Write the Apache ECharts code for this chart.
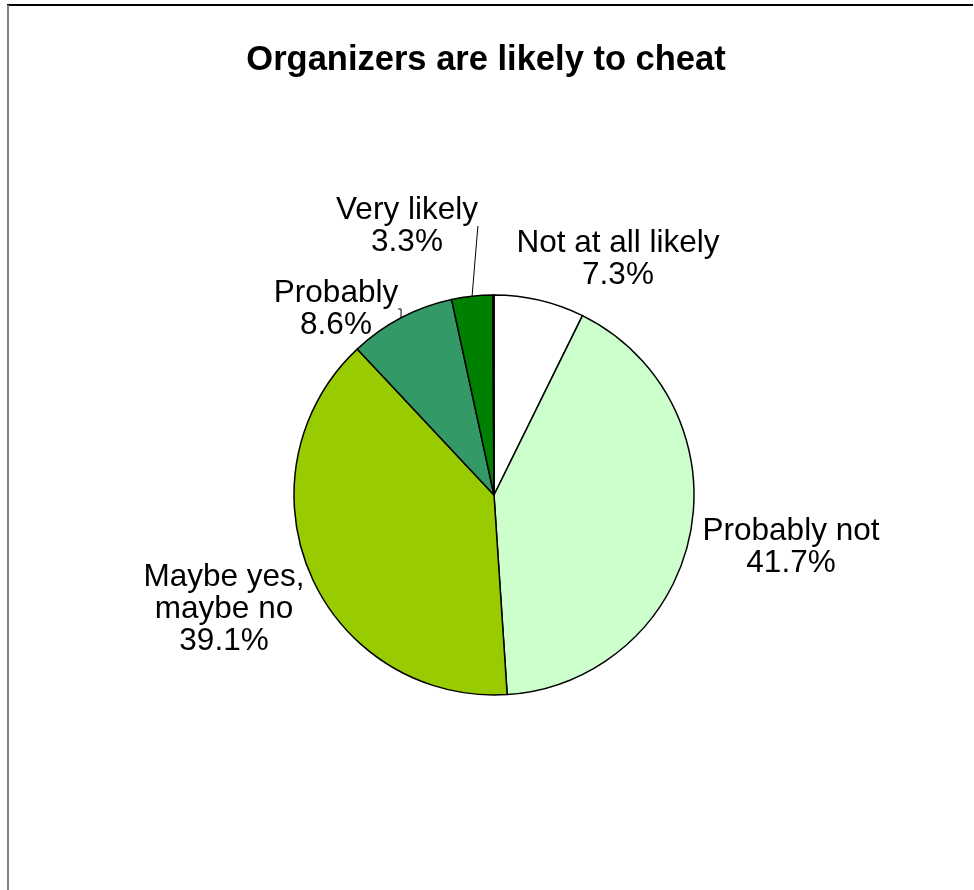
<!DOCTYPE html>
<html>
<head>
<meta charset="utf-8">
<script src="https://cdn.jsdelivr.net/npm/echarts@6/dist/echarts.min.js"></script>
<style>
html,body{margin:0;padding:0;background:#fff;}
#chart{width:974px;height:890px;}
</style>
</head>
<body>
<div id="chart"></div>
<script>
const titleText = 'Organizers are likely to cheat';
const categories = ['Not at all likely', 'Probably not', 'Maybe yes,\nmaybe no', 'Probably', 'Very likely', ''];
const values = [7.3, 41.7, 39.1, 8.6, 3.3, 0.1];
const colors = ['#FFFFFF', '#CCFFCC', '#99CC00', '#339966', '#008000', '#FFFFFF'];

// label placement (layout only)
const labelPos = [
  {x: 618, y: 259},
  {x: 791, y: 547},
  {x: 224, y: 609},
  {x: 336, y: 309},
  {x: 407, y: 226},
  {x: 494, y: 280}
];
const showLine = [false, false, false, true, true, false];

const chart = echarts.init(document.getElementById('chart'), null, {renderer: 'canvas'});

const data = categories.map((c, i) => ({
  name: c,
  value: values[i],
  itemStyle: {color: colors[i]},
  label: {show: c !== ''},
  labelLine: {show: showLine[i]}
}));

chart.setOption({
  animation: false,
  backgroundColor: '#ffffff',
  title: {
    text: titleText,
    left: 481,
    top: 38,
    textAlign: 'center',
    textStyle: {fontFamily: 'Liberation Sans, Arial, sans-serif', fontWeight: 'bold', fontSize: 34.5, color: '#000'}
  },
  graphic: [
    {type: 'line', shape: {x1: 7, y1: 5, x2: 973, y2: 5}, style: {stroke: '#000', lineWidth: 2}},
    {type: 'line', shape: {x1: 8, y1: 5, x2: 8, y2: 890}, style: {stroke: '#808080', lineWidth: 2}}
  ],
  series: [{
    type: 'pie',
    center: [494, 495],
    radius: [0, 200],
    startAngle: 90,
    clockwise: true,
    avoidLabelOverlap: false,
    itemStyle: {borderColor: '#000', borderWidth: 1.5},
    label: {
      show: true,
      position: 'outside',
      formatter: p => p.name + '\n' + p.value.toFixed(1) + '%',
      fontFamily: 'Liberation Sans, Arial, sans-serif',
      fontSize: 31.5,
      lineHeight: 32,
      color: '#000',
      align: 'center'
    },
    labelLine: {
      show: true,
      length: 8,
      length2: 4,
      lineStyle: {color: '#000', width: 1}
    },
    labelLayout: function (params) {
      const p = labelPos[params.dataIndex];
      return {x: p.x, y: p.y, align: 'center', verticalAlign: 'middle'};
    },
    emphasis: {disabled: true},
    data: data
  }]
});
</script>
</body>
</html>
